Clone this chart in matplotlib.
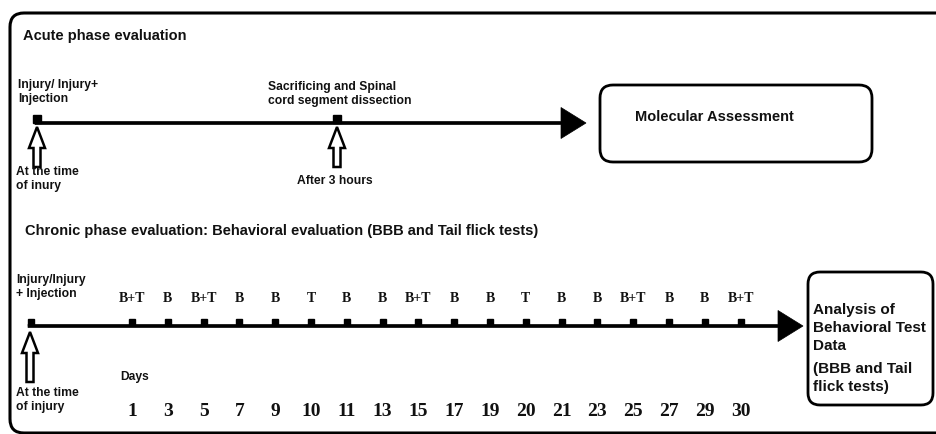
import numpy as np
import matplotlib.pyplot as plt
from matplotlib.patches import FancyBboxPatch, FancyArrow

# timeline content
acute_title = "Acute phase evaluation"
acute_events = ["Injury/ Injury+\nInjection", "Sacrificing and Spinal\ncord segment dissection"]
acute_times = ["At the time\nof inury", "After 3 hours"]
acute_result = "Molecular Assessment"

chronic_title = "Chronic phase evaluation: Behavioral evaluation (BBB and Tail flick tests)"
chronic_event = "Injury/Injury\n+ Injection"
chronic_time = "At the time\nof injury"
days = [1, 3, 5, 7, 9, 10, 11, 13, 15, 17, 19, 20, 21, 23, 25, 27, 29, 30]
tests = ["B+T", "B", "B+T", "B", "B", "T", "B", "B", "B+T",
         "B", "B", "T", "B", "B", "B+T", "B", "B", "B+T"]
chronic_result = ["Analysis of\nBehavioral Test\nData", "(BBB and Tail\nflick tests)"]

SANS = "Liberation Sans"
SERIF = "Liberation Serif"
INK = "#111111"
SMALL = 8.7

fig = plt.figure(figsize=(9.36, 4.34), dpi=100)
ax = fig.add_axes([0, 0, 1, 1])
ax.set_xlim(0, 936)
ax.set_ylim(434, 0)
ax.axis("off")

# outer frame (runs off the right edge)
ax.add_patch(FancyBboxPatch((10, 13), 960, 420, boxstyle="round,pad=0,rounding_size=14",
                            fc="white", ec="black", lw=2.2))


def hollow_up(x, ytop, ybot):
    ax.add_patch(FancyArrow(x, ybot, 0, -(ybot - ytop), width=7, head_width=16,
                            head_length=21, length_includes_head=True,
                            fc="white", ec="black", lw=1.8))


def timeline(x0, x1, y):
    ax.add_patch(FancyArrow(x0, y, x1 - x0, 0, width=3, head_width=31, head_length=25,
                            length_includes_head=True, fc="black", ec="black", lw=0.5))


def label(x, y, s, size=SMALL, ls=1.2, **kw):
    ax.text(x, y, s, fontsize=size, fontweight="bold", family=SANS, color=INK,
            va="center", linespacing=ls, **kw)


# ---- acute phase ----
label(23, 36, acute_title, size=10.5)
y_ac = 123
acute_x = [37, 337]
timeline(35, 586, y_ac)
ax.plot(acute_x, [y_ac - 4] * 2, "s", ms=5.5, color="black")
label(18, 92, acute_events[0])
label(268, 94, acute_events[1])
for x in acute_x:
    hollow_up(x, 127, 167)
label(16, 179, acute_times[0])
label(335, 181, acute_times[1], ha="center")
ax.add_patch(FancyBboxPatch((600, 85), 272, 77, boxstyle="round,pad=0,rounding_size=13",
                            fc="white", ec="black", lw=2))
label(635, 117, acute_result, size=10.5)

# ---- chronic phase ----
label(25, 231, chronic_title, size=10.5)
y_ch = 326
timeline(28, 803, y_ch)
day_x = 132 + 35.8 * np.arange(len(days))
ax.plot([31], [y_ch - 4], "s", ms=5, color="black")
ax.plot(day_x, [y_ch - 4] * len(days), "s", ms=5, color="black")
for x, t, d in zip(day_x, tests, days):
    ax.text(x, 299, t, fontsize=10, fontweight="bold", family=SERIF, color=INK,
            ha="center", va="center")
    ax.text(x, 412, str(d), fontsize=14, fontweight="bold", family=SERIF, color=INK,
            ha="center", va="center")
label(16, 287, chronic_event)
hollow_up(30, 332, 382)
label(120, 377, "Days")
label(16, 400, chronic_time)
ax.add_patch(FancyBboxPatch((808, 272), 125, 133, boxstyle="round,pad=0,rounding_size=12",
                            fc="white", ec="black", lw=2))
label(813, 328, chronic_result[0], size=11, ls=1.38)
label(813, 378, chronic_result[1], size=11, ls=1.38)

fig.savefig("out.png", dpi=100)
